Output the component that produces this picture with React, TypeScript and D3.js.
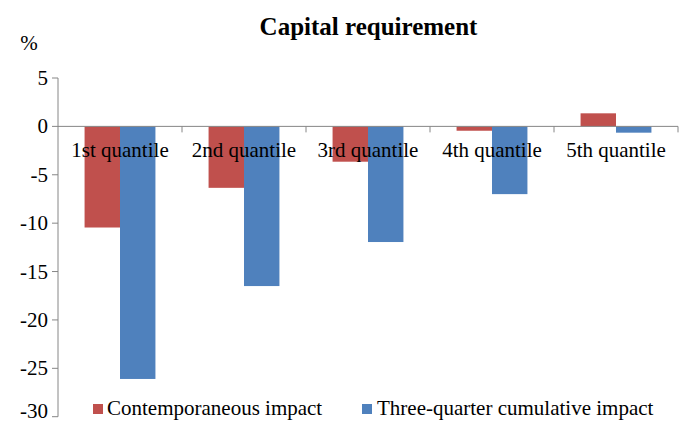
import React from "react";
import * as d3 from "d3";

const categories = ["1st quantile", "2nd quantile", "3rd quantile", "4th quantile", "5th quantile"];
const seriesNames = ["Contemporaneous impact", "Three-quarter cumulative impact"];
const contemporaneous = [-10.45, -6.35, -3.65, -0.45, 1.35];
const cumulative = [-26.1, -16.5, -11.95, -7.0, -0.65];
const yTicks = [5, 0, -5, -10, -15, -20, -25, -30];
const colors = ["#C0504D", "#4F81BD"];

export default function App() {
  const W = 680, H = 423;
  const left = 58, right = 678;
  const y = d3.scaleLinear().domain([-30, 5]).range([416.7, 78]);
  const x = d3.scaleBand<string>().domain(categories).range([left, right]);
  const bw = x.bandwidth() / 3.5;
  const inner = d3.scaleBand<number>().domain([0, 1]).range([0, bw * 2]);
  const series = [contemporaneous, cumulative];
  const font = "'Liberation Serif', 'Times New Roman', serif";
  const axisColor = "#868686";
  const fs = 21;
  return (
    <svg width={W} height={H} style={{ position: "absolute", left: 0, top: 0 }} fontFamily={font}>
      <rect width={W} height={H} fill="#fff" />
      <text x={368.5} y={35} textAnchor="middle" fontSize={25} fontWeight="bold">Capital requirement</text>
      <text x={29} y={50} textAnchor="middle" fontSize={fs}>%</text>
      {series.map((vals, si) =>
        vals.map((v, i) => {
          const x0 = (x(categories[i]) as number) + (x.bandwidth() - bw * 2) / 2 + (inner(si) as number);
          const y0 = y(Math.max(0, v));
          const h = Math.abs(y(v) - y(0));
          return <rect key={si + "-" + i} x={x0} y={y0} width={bw} height={h} fill={colors[si]} />;
        })
      )}
      <line x1={left} x2={left} y1={y(5)} y2={y(-30)} stroke={axisColor} strokeWidth={1} />
      {yTicks.map((t) => (
        <g key={t}>
          <line x1={left - 6} x2={left} y1={y(t)} y2={y(t)} stroke={axisColor} />
          <text x={48} y={Math.min(y(t) + 7, 418)} textAnchor="end" fontSize={fs}>{t}</text>
        </g>
      ))}
      <line x1={left} x2={right} y1={y(0)} y2={y(0)} stroke={axisColor} strokeWidth={1} />
      {categories.map((c) => (
        <line key={c} x1={(x(c) as number) + x.bandwidth()} x2={(x(c) as number) + x.bandwidth()} y1={y(0)} y2={y(0) + 6} stroke={axisColor} />
      ))}
      {categories.map((c) => (
        <text key={c} x={(x(c) as number) + x.bandwidth() / 2} y={157} textAnchor="middle" fontSize={fs}>{c}</text>
      ))}
      <rect x={93} y={404} width={10} height={10} fill={colors[0]} />
      <text x={107} y={415} fontSize={fs}>{seriesNames[0]}</text>
      <rect x={362} y={404} width={10} height={10} fill={colors[1]} />
      <text x={377} y={415} fontSize={fs}>{seriesNames[1]}</text>
    </svg>
  );
}
